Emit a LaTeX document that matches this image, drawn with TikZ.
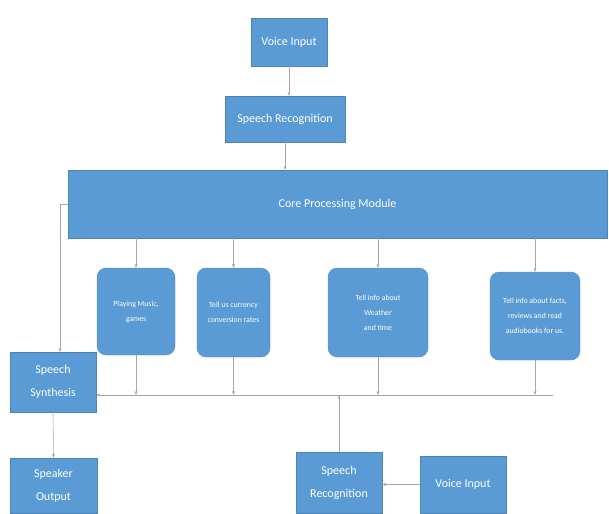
\documentclass[tikz,border=0pt]{standalone}
\usepackage{fontspec}
\setmainfont{Carlito}
\usetikzlibrary{arrows.meta}
\definecolor{boxblue}{HTML}{5B9BD5}
\definecolor{wire}{HTML}{A6A6A6}
\tikzset{
    block/.style={fill=boxblue, draw=boxblue!85!black, line width=0.3pt, text=white,
        align=center, inner sep=2pt, font=\fontsize{12}{23}\selectfont},
    subbox/.style={block, rounded corners=9pt, font=\fontsize{7.8}{15}\selectfont},
    wireto/.style={draw=wire, line width=0.6pt, -{Stealth[length=4pt,width=3pt]}},
}
\begin{document}
\begin{tikzpicture}[x=1pt,y=-1pt]
    \useasboundingbox (0,0) rectangle (609,513);

    \node[block, minimum width=76, minimum height=48] (vintop) at (289,42) {Voice Input};
    \node[block, minimum width=120, minimum height=46] (srtop) at (285,119) {Speech Recognition};
    \node[block, minimum width=539, minimum height=68] (core) at (337.5,204) {Core Processing Module};

    \foreach \n/\x/\y/\w/\h/\t in {task1/136/311.5/78/87/{Playing Music,\\ games},
                                   task2/233.5/312.5/73/89/{Tell us currency\\ conversion rates},
                                   task3/378/312.5/100/89/{Tell info about\\ Weather\\ and time},
                                   task4/535/316/90/88/{Tell info about facts,\\ reviews and read\\ audiobooks for us.}}
        \node[subbox, minimum width=\w, minimum height=\h] (\n) at (\x,\y) {\t};

    \node[block, minimum width=86, minimum height=60] (synth) at (53,382) {Speech\\ Synthesis};
    \node[block, minimum width=87, minimum height=55] (speaker) at (53.5,485.5) {Speaker\\ Output};
    \node[block, minimum width=86, minimum height=61] (srbot) at (339,482.5) {Speech\\ Recognition};
    \node[block, minimum width=86, minimum height=57] (vinbot) at (463,484.5) {Voice Input};

    \coordinate (left) at (60,204);
    \coordinate (bus) at (553,395);

    \path[wireto] (vintop.south) -- (vintop.south |- srtop.north);
    \path[wireto] (srtop.south) -- (srtop.south |- core.north);
    \path[draw=wire, line width=0.6pt] (core.west) -- (left);
    \path[wireto] (left) -- (left |- synth.north);

    \foreach \n in {task1,task2,task3,task4} {
        \path[wireto] (core.south -| \n.north) -- (\n.north);
        \path[wireto] (\n.south) -- (\n.south |- bus);
    }

    \path[wireto] (bus) -- (synth.east |- bus);
    \path[wireto] (srbot.north) -- (srbot.north |- bus);
    \path[wireto] (synth.south) -- (speaker.north);
    \path[wireto] (vinbot.west) -- (srbot.east |- vinbot.west);

\end{tikzpicture}
\end{document}
